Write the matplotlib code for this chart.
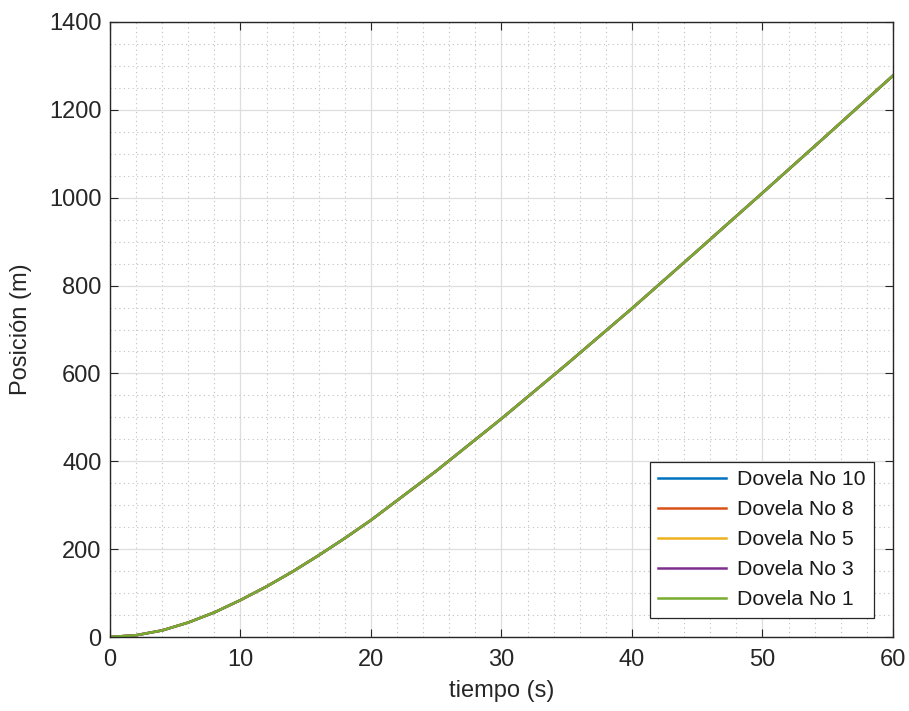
import numpy as np
import matplotlib.pyplot as plt
from matplotlib.ticker import MultipleLocator

# datos
tiempo = [0, 2, 4, 6, 8, 10, 12, 14, 16, 18, 20, 25, 30, 35, 40, 45, 50, 55, 60]
posicion = [0, 4, 15, 33, 56, 84, 115, 149, 186, 225, 266, 378, 497, 621, 748, 879, 1011, 1144, 1278]
dovelas = ['Dovela No 10', 'Dovela No 8', 'Dovela No 5', 'Dovela No 3', 'Dovela No 1']
colores = ['#0072BD', '#D95319', '#EDB120', '#7E2F8E', '#77AC30']

plt.rcParams['font.family'] = ['Liberation Sans', 'DejaVu Sans']
gris = '#262626'

fig = plt.figure(figsize=(9.09, 7.11), dpi=100)
ax = fig.add_axes([110 / 909, 74 / 711, 783 / 909, 615 / 711])

for nombre, c in zip(dovelas, colores):
    ax.plot(tiempo, posicion, color=c, lw=1.8, label=nombre)

ax.set_xlim(0, 60)
ax.set_ylim(0, 1400)
ax.xaxis.set_major_locator(MultipleLocator(10))
ax.xaxis.set_minor_locator(MultipleLocator(2))
ax.yaxis.set_major_locator(MultipleLocator(200))
ax.yaxis.set_minor_locator(MultipleLocator(50))

ax.grid(True, which='major', color='#dedede', lw=0.9)
ax.grid(True, which='minor', color='#c0c0c0', lw=0.8, ls=(0, (1, 3)))
ax.set_axisbelow(True)

ax.tick_params(which='both', direction='in', top=True, right=True, colors=gris, labelsize=17)
ax.tick_params(which='major', length=6)
ax.tick_params(which='minor', length=0)
ax.tick_params(axis='x', pad=9)
ax.tick_params(axis='y', pad=6)
for s in ax.spines.values():
    s.set_color(gris)
    s.set_linewidth(1.0)

ax.set_xlabel('tiempo (s)', fontsize=17, color=gris, labelpad=6)
ax.set_ylabel('Posición (m)', fontsize=17, color=gris, labelpad=12)

leg = ax.legend(loc='lower right', fontsize=15.3, fancybox=False, framealpha=1,
                edgecolor=gris, handlelength=3.2, handletextpad=0.5,
                borderaxespad=0.9, labelspacing=0.52, borderpad=0.4)
leg.get_frame().set_linewidth(0.9)
for t in leg.get_texts():
    t.set_color('#1a1a1a')

fig.savefig('out.png', dpi=100, facecolor='white')
